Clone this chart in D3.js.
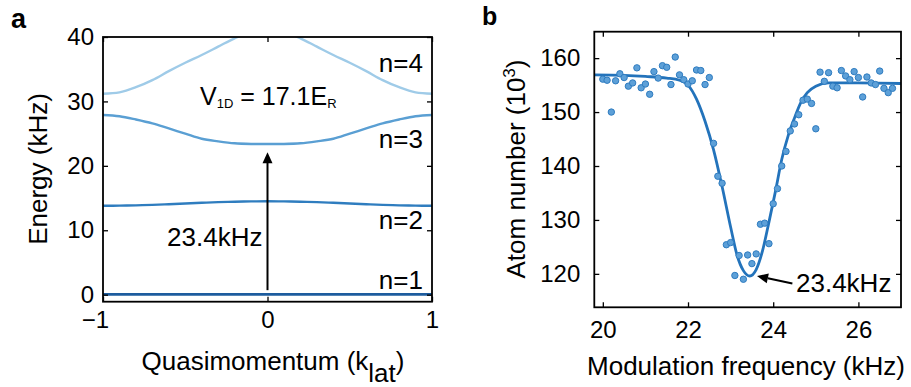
<!DOCTYPE html>
<html><head><meta charset="utf-8">
<script src="https://cdn.jsdelivr.net/npm/d3@7"></script>
<style>
body{margin:0;background:#fff}
svg{display:block}
text{font-family:"Liberation Sans",Arial,Helvetica,sans-serif;fill:#000}
</style>
</head><body>
<svg id="c" width="911" height="387"></svg>
<script>
// ---------- Panel a data: band structure ----------
const quasi = [-1,-0.9,-0.8,-0.7,-0.6,-0.5,-0.4,-0.3,-0.2,-0.1,0,0.1,0.2,0.3,0.4,0.5,0.6,0.7,0.8,0.9,1];
const band1 = [0.05,0.05,0.05,0.05,0.05,0.05,0.05,0.05,0.05,0.05,0.05,0.05,0.05,0.05,0.05,0.05,0.05,0.05,0.05,0.05,0.05];
const band2 = [13.8,13.82,13.87,13.94,14.04,14.15,14.26,14.36,14.43,14.48,14.5,14.48,14.43,14.36,14.26,14.15,14.04,13.94,13.87,13.82,13.8];
const band3 = [27.9,27.7,27.2,26.6,25.8,25.0,24.2,23.8,23.5,23.4,23.4,23.4,23.5,23.8,24.2,25.0,25.8,26.6,27.2,27.7,27.9];
const band4 = [31.2,31.4,32.2,33.3,34.7,36.0,37.2,38.5,39.8,40.8,41.2,40.8,39.8,38.5,37.2,36.0,34.7,33.3,32.2,31.4,31.2];
const bandNames = ["n=1","n=2","n=3","n=4"];
const bandColors = ["#1d5c9e","#2f7dbf","#5a9fd3","#9fcbe8"];
const aTicksX = [-1,0,1];
const aTicksY = [0,10,20,30,40];

// ---------- Panel b data: modulation spectroscopy ----------
const freq = [20.0,20.1,20.2,20.3,20.4,20.5,20.6,20.7,20.8,20.9,21.0,21.1,21.2,21.3,21.4,21.5,21.6,21.7,21.8,21.9,
              22.0,22.1,22.2,22.3,22.4,22.5,22.6,22.7,22.8,22.9,23.0,23.1,23.2,23.3,23.4,23.5,23.6,23.7,23.8,23.9,
              24.0,24.1,24.2,24.3,24.4,24.5,24.6,24.7,24.8,24.9,25.0,25.1,25.2,25.3,25.4,25.5,25.6,25.7,25.8,25.9,
              26.0,26.1,26.2,26.3,26.4,26.5,26.6,26.7,26.8];
const atoms = [156.1,155.9,150.0,155.8,157.1,156.4,154.8,155.4,158.2,154.5,155.2,153.3,157.5,156.3,158.6,158.3,155.1,160.2,156.9,156.0,
               155.2,155.8,157.8,157.7,155.1,156.4,144.2,138.1,136.8,125.4,125.8,119.7,123.4,119.0,123.5,121.9,123.7,129.2,129.4,125.6,
               133.0,135.8,140.0,142.7,146.5,147.8,149.5,152.2,152.4,151.6,146.9,157.4,155.7,157.3,154.8,154.5,157.7,156.7,156.0,157.5,
               156.4,152.8,156.5,155.4,155.1,157.6,154.4,153.6,154.4];
const fitFreq  = [19.8,20.5,21.0,21.5,21.8,22.0,22.2,22.4,22.6,22.8,23.0,23.15,23.3,23.45,23.6,23.75,23.9,24.05,24.2,24.35,24.5,24.65,24.8,25.0,25.3,25.6,26.0,27.0];
const fitAtoms = [156.9,156.8,156.6,156.3,155.9,155.0,152.4,148.3,143.0,136.2,128.7,123.5,120.6,119.6,120.8,124.3,129.6,135.2,141.2,145.6,148.9,151.8,153.6,154.8,155.4,155.4,155.4,155.3];
const bTicksX = [20,22,24,26];
const bTicksY = [120,130,140,150,160];

const svg = d3.select("#c");
const FS = 24;   // tick labels
const LS = 26;   // titles and annotations

// ---------- helpers ----------
function frame(g, x, y, ticksX, ticksY, fmtX, padX, padY){
  const [x0,x1] = x.range(), [y0,y1] = y.range();
  g.append("g").attr("transform",`translate(0,${y0})`)
    .call(d3.axisBottom(x).tickValues(ticksX).tickSize(-5).tickSizeOuter(0).tickPadding(padX).tickFormat(fmtX));
  g.append("g").attr("transform",`translate(${x0},0)`)
    .call(d3.axisLeft(y).tickValues(ticksY).tickSize(-5).tickSizeOuter(0).tickPadding(padY).tickFormat(d3.format("d")));
  g.append("g").attr("transform",`translate(0,${y1})`)
    .call(d3.axisTop(x).tickValues(ticksX).tickSize(-5).tickSizeOuter(0).tickFormat(""));
  g.append("g").attr("transform",`translate(${x1},0)`)
    .call(d3.axisRight(y).tickValues(ticksY).tickSize(-5).tickSizeOuter(0).tickFormat(""));
  g.selectAll(".domain").remove();
  g.selectAll(".tick line").attr("stroke","#000").attr("stroke-width",1.3);
  g.selectAll(".tick text").style("font-size",FS+"px").attr("fill","#000")
    .style("font-family",'"Liberation Sans",Arial,Helvetica,sans-serif');
  g.append("rect").attr("x",x0).attr("y",y1).attr("width",x1-x0).attr("height",y0-y1)
    .attr("fill","none").attr("stroke","#000").attr("stroke-width",1.8);
}

// ================= Panel a =================
const xa = d3.scaleLinear().domain([-1,1]).range([103,432]);
const ya = d3.scaleLinear().domain([-1.09,40]).range([301.7,37]);
const ga = svg.append("g");
ga.append("defs").append("clipPath").attr("id","clipA")
  .append("rect").attr("x",103).attr("y",37).attr("width",329).attr("height",264.7);

const lineA = d3.line().x((d,i)=>xa(quasi[i])).y(d=>ya(d)).curve(d3.curveCatmullRom);
const plotA = ga.append("g").attr("clip-path","url(#clipA)");
[band4,band3,band2,band1].forEach((b,k)=>{
  const idx = 3-k;
  plotA.append("path").datum(b).attr("d",lineA).attr("fill","none")
    .attr("stroke",bandColors[idx]).attr("stroke-width",idx===0?2.8:2.4);
});

// arrow
const arrowFrom = 0.7, arrowTo = 22.1;
ga.append("line").attr("x1",xa(0)).attr("x2",xa(0)).attr("y1",ya(arrowFrom)).attr("y2",ya(arrowTo)+7)
  .attr("stroke","#000").attr("stroke-width",2);
ga.append("path").attr("d",`M${xa(0)},${ya(arrowTo)} L${xa(0)-5},${ya(arrowTo)+11} L${xa(0)+5},${ya(arrowTo)+11} Z`).attr("fill","#000");

frame(ga, xa, ya, aTicksX, aTicksY, d=>d<0?"\u2212"+Math.abs(d):String(d), 9, 9);
ga.selectAll(".tick text").filter(function(){return this.textContent==="\u22121";}).attr("dx","-8");

// band labels
const labelE = [0.9,10.2,22.7,34.6];
bandNames.forEach((n,i)=>{
  ga.append("text").attr("x",xa(0.677)).attr("y",ya(labelE[i])).style("font-size",LS+"px").text(n);
});
// V1D annotation
const vt = ga.append("text").attr("x",200).attr("y",105).style("font-size","25px");
vt.append("tspan").text("V");
vt.append("tspan").attr("dy",3).style("font-size","13px").text("1D");
vt.append("tspan").attr("dy",-3).text(" = 17.1E");
vt.append("tspan").attr("dy",3).style("font-size","13px").text("R");
// 23.4kHz
ga.append("text").attr("x",xa(0)-5).attr("y",ya(7.56)).attr("text-anchor","end").style("font-size",LS+"px").text("23.4kHz");
// axis titles
const xt = ga.append("text").attr("x",273).attr("y",370).attr("text-anchor","middle").style("font-size",LS+"px");
xt.append("tspan").text("Quasimomentum (k");
xt.append("tspan").attr("dy",12).text("lat");
xt.append("tspan").attr("dy",-12).text(")");
ga.append("text").attr("transform","translate(47,169) rotate(-90)").attr("text-anchor","middle")
  .style("font-size",LS+"px").text("Energy (kHz)");
ga.append("text").attr("x",11).attr("y",28).style("font-size","27px").style("font-weight","bold").text("a");

// ================= Panel b =================
const xb = d3.scaleLinear().domain([19.8,27.0]).range([594.3,901]);
const yb = d3.scaleLinear().domain([113.8,164.9]).range([307.3,31.7]);
const gb = svg.append("g");
gb.append("path").datum(fitFreq.map((f,i)=>[f,fitAtoms[i]]))
  .attr("d",d3.line().x(d=>xb(d[0])).y(d=>yb(d[1])).curve(d3.curveMonotoneX))
  .attr("fill","none").attr("stroke","#2373bb").attr("stroke-width",2.8);
gb.selectAll("circle.pt").data(freq).join("circle").attr("class","pt")
  .attr("cx",d=>xb(d)).attr("cy",(d,i)=>yb(atoms[i])).attr("r",3.2)
  .attr("fill","#5da0d8").attr("stroke","#2f7cc0").attr("stroke-width",1);

frame(gb, xb, yb, bTicksX, bTicksY, d3.format("d"), 14, 14);

// annotation arrow
const tipF = 23.62, tipN = 119.6, tailF = 24.45, tailN = 118.2;
const tx = xb(tipF), ty = yb(tipN), sx = xb(tailF), sy = yb(tailN);
const ang = Math.atan2(ty-sy, tx-sx);
const hl = 11, hw = 5;
const bx = tx - hl*Math.cos(ang), by = ty - hl*Math.sin(ang);
gb.append("line").attr("x1",sx).attr("y1",sy).attr("x2",bx).attr("y2",by).attr("stroke","#000").attr("stroke-width",2);
gb.append("path").attr("d",`M${tx},${ty} L${bx+hw*Math.sin(ang)},${by-hw*Math.cos(ang)} L${bx-hw*Math.sin(ang)},${by+hw*Math.cos(ang)} Z`).attr("fill","#000");
gb.append("text").attr("x",796).attr("y",292).style("font-size",LS+"px").text("23.4kHz");

gb.append("text").attr("x",746).attr("y",375).attr("text-anchor","middle").style("font-size",LS+"px").text("Modulation frequency (kHz)");
const yt = gb.append("text").attr("transform","translate(525,169) rotate(-90)").attr("text-anchor","middle").style("font-size",LS+"px");
yt.append("tspan").text("Atom number (10");
yt.append("tspan").attr("dy",-10).style("font-size","17px").text("3");
yt.append("tspan").attr("dy",10).text(")");
gb.append("text").attr("x",482).attr("y",25).style("font-size","25px").style("font-weight","bold").text("b");
</script>
</body></html>
